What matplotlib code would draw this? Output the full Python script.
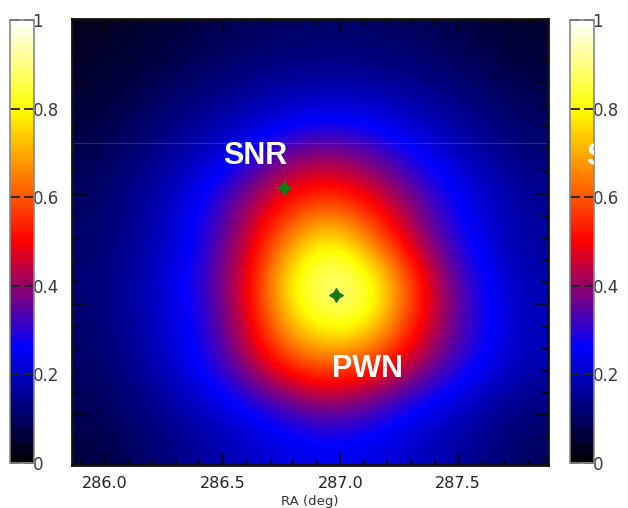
import numpy as np
import matplotlib
matplotlib.use("Agg")
import matplotlib.pyplot as plt
from matplotlib.colors import LinearSegmentedColormap, Normalize
from matplotlib.ticker import MultipleLocator
import matplotlib.cm as cm

# ---- data (normalised brightness 0..1) ----
ra_range = [285.860, 287.882]
dec_range = [0.775, 2.788]
intensity = [
    [.033, .048, .064, .081, .096, .105, .110, .106, .097, .083, .065, .050],
    [.050, .070, .094, .120, .140, .157, .163, .159, .143, .122, .097, .073],
    [.067, .096, .130, .165, .200, .235, .260, .245, .205, .168, .133, .100],
    [.085, .122, .166, .215, .290, .400, .420, .370, .290, .220, .170, .127],
    [.100, .146, .200, .290, .410, .530, .580, .510, .390, .280, .210, .155],
    [.110, .150, .205, .310, .460, .680, .830, .660, .460, .310, .220, .160],
    [.117, .165, .230, .330, .500, .820, .930, .880, .600, .380, .255, .175],
    [.113, .160, .220, .310, .480, .740, .860, .810, .560, .380, .260, .190],
    [.102, .145, .210, .290, .420, .570, .620, .570, .450, .330, .250, .180],
    [.087, .124, .165, .215, .275, .345, .400, .345, .280, .220, .170, .130],
    [.068, .097, .131, .168, .200, .230, .245, .235, .205, .170, .135, .100],
]
source_names = ["SNR", "PWN"]
source_ra = [286.761, 286.982]
source_dec = [2.023, 1.541]
label_ra = [286.637, 287.113]
label_dec = [2.171, 1.207]
xticks = [286.0, 286.5, 287.0, 287.5]
xtick_labels = ["286.0", "286.5", "287.0", "287.5"]
cbar_ticks = [0, 0.2, 0.4, 0.6, 0.8, 1.0]
cbar_labels = ["0", "0.2", "0.4", "0.6", "0.8", "1"]
artifact_dec = 2.23

cmap = LinearSegmentedColormap.from_list(
    "bluered",
    [(0.0, (0, 0, 0)), (0.26, (0, 0, 1)), (0.5, (1, 0, 0)),
     (0.8, (1, 1, 0)), (1.0, (1, 1, 1))])
norm = Normalize(0, 1)

W, H = 628, 508
fig = plt.figure(figsize=(W / 100, H / 100), dpi=100)

def fr(x0, y0, x1, y1):
    return [x0 / W, 1 - y1 / H, (x1 - x0) / W, (y1 - y0) / H]

ax = fig.add_axes(fr(72, 19, 548, 465))
ax.imshow(np.array(intensity), cmap=cmap, norm=norm, origin="upper",
          extent=(ra_range[0], ra_range[1], dec_range[0], dec_range[1]),
          aspect="auto", interpolation="bicubic")
ax.axhline(artifact_dec, color=(0.45, 0.45, 0.6), alpha=0.35, lw=0.8)
ax.set_xlim(ra_range)
ax.set_ylim(dec_range)
ax.set_xticks(xticks)
ax.set_xticklabels(xtick_labels, fontsize=11.5, color="#222222")
ax.xaxis.set_minor_locator(MultipleLocator(0.1))
ax.yaxis.set_major_locator(MultipleLocator(0.5))
ax.yaxis.set_minor_locator(MultipleLocator(0.1))
ax.tick_params(which="both", direction="in", top=True, right=True,
               color="black", width=1.2)
ax.tick_params(which="major", length=9)
ax.tick_params(which="minor", length=4.5)
ax.tick_params(axis="y", labelleft=False)
ax.tick_params(axis="x", pad=8)
for s in ax.spines.values():
    s.set_linewidth(2)
    s.set_color("#111111")
ax.set_xlabel("RA (deg)", fontsize=9.5, color="#333333", labelpad=3)

for name, x, y, lx, ly in zip(source_names, source_ra, source_dec, label_ra, label_dec):
    ax.plot(x, y, marker=(4, 1, 0), ms=10, color="#157a15", mec="#157a15")
    ax.text(lx, ly, name, color="white", fontsize=22, fontweight="bold",
            family="Liberation Sans", ha="center", va="center")

sm = cm.ScalarMappable(norm=norm, cmap=cmap)
for x0 in (10, 570):
    cax = fig.add_axes(fr(x0, 20, x0 + 24, 463))
    cb = fig.colorbar(sm, cax=cax)
    cb.set_ticks(cbar_ticks)
    cb.set_ticklabels(cbar_labels)
    cb.outline.set_edgecolor("#888888")
    cb.outline.set_linewidth(1.2)
    cax.tick_params(direction="in", left=True, right=True, length=7,
                    width=1.3, color="#222222", labelsize=12,
                    labelcolor="#3a3a3a", pad=-1)
    cax.yaxis.set_ticks_position("both")
    cax.yaxis.set_label_position("right")
    cax.tick_params(labelleft=False, labelright=True)
    if x0 == 570:
        t = cax.text(586 / W, 1 - 157 / H, "S", transform=fig.transFigure,
                     color="white", fontsize=22, fontweight="bold",
                     family="Liberation Sans", ha="left", va="center",
                     clip_on=True)
        t.set_clip_path(cax.patch)

fig.savefig("out.png", dpi=100)
